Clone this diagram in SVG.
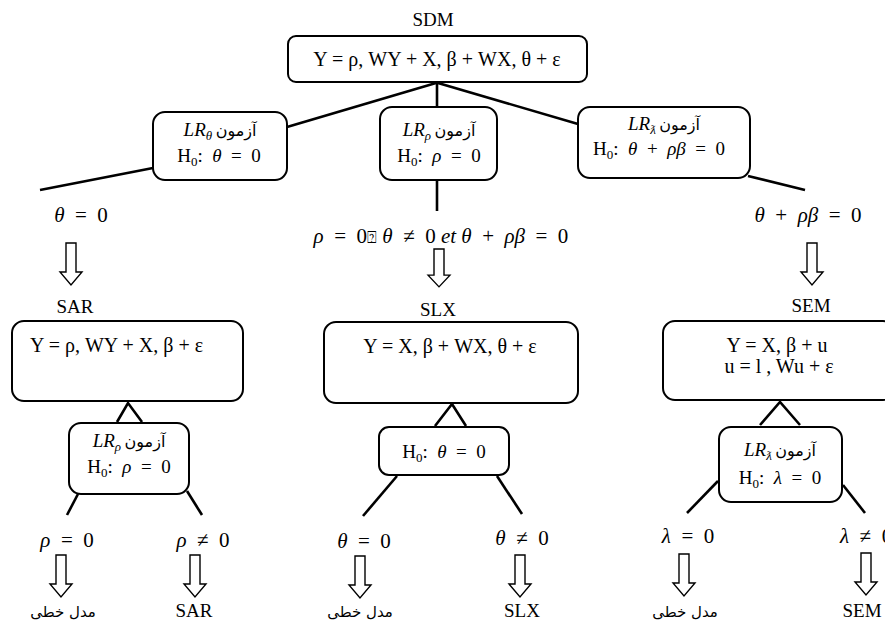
<svg xmlns="http://www.w3.org/2000/svg" width="885" height="625" viewBox="0 0 885 625">
<style>
.bg{fill:#fff}
.box{fill:#fff;stroke:#000;stroke-width:2}
.ln{fill:none;stroke:#000;stroke-width:2.6;stroke-linecap:butt}
.t{font-family:'Liberation Serif','DejaVu Serif',serif;fill:#000;white-space:pre}
.eq{font-size:20px}
.m{font-size:21px}
.lbl{font-size:19px}
.fa{font-family:'DejaVu Sans','Noto Sans',sans-serif;font-size:16px;fill:#000}
.fb{font-family:'DejaVu Sans','Noto Sans',sans-serif;font-size:15px;fill:#000}
.i{font-style:italic}
.arr{fill:#fff;stroke:#000;stroke-width:1.4}
</style>
<defs>
<path id="harrow" d="M-5,0 H5 V29 H11 L0,42 L-11,29 H-5 Z"/>
</defs>
<rect class="bg" x="0" y="0" width="885" height="625"/>

<g id="connectors">
<line class="ln" x1="436" y1="83" x2="287" y2="127"/>
<line class="ln" x1="153" y1="168" x2="40" y2="190"/>
<line class="ln" x1="437" y1="83" x2="437" y2="108"/>
<line class="ln" x1="437" y1="180" x2="437" y2="211"/>
<line class="ln" x1="438" y1="83" x2="578" y2="124"/>
<line class="ln" x1="748" y1="176" x2="805" y2="190"/>
<polyline class="ln" points="117,422 128,403 142,422"/>
<polyline class="ln" points="435,426 452,404 466,426"/>
<polyline class="ln" points="760,425 780,402 800,425"/>
<line class="ln" x1="78" y1="494" x2="67" y2="515"/>
<line class="ln" x1="187" y1="491" x2="202" y2="515"/>
<line class="ln" x1="397" y1="476" x2="363" y2="516"/>
<line class="ln" x1="497" y1="476" x2="522" y2="514"/>
<line class="ln" x1="718" y1="481" x2="687" y2="513"/>
<line class="ln" x1="843" y1="485" x2="865" y2="513"/>
<use href="#harrow" class="arr" transform="translate(71,243)"/>
<use href="#harrow" class="arr" transform="translate(439,249) scale(1,0.9)"/>
<use href="#harrow" class="arr" transform="translate(812,243)"/>
<use href="#harrow" class="arr" transform="translate(61,555)"/>
<use href="#harrow" class="arr" transform="translate(195,555)"/>
<use href="#harrow" class="arr" transform="translate(360,556)"/>
<use href="#harrow" class="arr" transform="translate(520,555)"/>
<use href="#harrow" class="arr" transform="translate(684,554)"/>
<use href="#harrow" class="arr" transform="translate(866,553)"/>
</g>

<g font-family="Liberation Serif, DejaVu Serif, serif">
<g id="sdm">
<text class="t lbl" x="433" y="26" text-anchor="middle">SDM</text>
<rect class="box" x="288" y="36" width="299" height="46" rx="8"/>
<text class="t eq" x="437" y="66" text-anchor="middle">Y = ρ, WY + X, β + WX, θ + ε</text>
</g>

<g id="test-theta">
<rect class="box" x="153" y="112" width="134" height="68" rx="12"/>
<text class="t" x="220" y="136" text-anchor="middle"><tspan class="i" font-size="19">LR</tspan><tspan class="i" font-size="13" dy="4">θ</tspan><tspan dy="-4" font-size="14"> </tspan><tspan class="fa">آزمون</tspan></text>
<text class="t" x="219" y="162" text-anchor="middle" font-size="19">H<tspan font-size="13" dy="4">0</tspan><tspan dy="-4">:  </tspan><tspan class="i">θ</tspan>  =  0</text>
</g>

<g id="test-rho">
<rect class="box" x="380" y="107" width="117" height="73" rx="12"/>
<text class="t" x="439" y="136" text-anchor="middle"><tspan class="i" font-size="19">LR</tspan><tspan class="i" font-size="13" dy="4">ρ</tspan><tspan dy="-4" font-size="14"> </tspan><tspan class="fa">آزمون</tspan></text>
<text class="t" x="439" y="162" text-anchor="middle" font-size="19">H<tspan font-size="13" dy="4">0</tspan><tspan dy="-4">:  </tspan><tspan class="i">ρ</tspan>  =  0</text>
</g>

<g id="test-lambda">
<rect class="box" x="578" y="107" width="172" height="71" rx="12"/>
<text class="t" x="664" y="130" text-anchor="middle"><tspan class="i" font-size="19">LR</tspan><tspan class="i" font-size="13" dy="4">ƛ</tspan><tspan dy="-4" font-size="14"> </tspan><tspan class="fa">آزمون</tspan></text>
<text class="t" x="659" y="155" text-anchor="middle" font-size="19">H<tspan font-size="13" dy="4">0</tspan><tspan dy="-4">:  </tspan><tspan class="i">θ</tspan>  +  <tspan class="i">ρβ</tspan>  =  0</text>
</g>

<g id="cond-labels">
<text class="t m" x="81" y="222" text-anchor="middle"><tspan class="i">θ</tspan>  =  0</text>
<text class="t m" x="441" y="243" text-anchor="middle"><tspan class="i">ρ</tspan>  =  0<tspan font-family="DejaVu Sans" font-size="16">⍰</tspan> <tspan class="i">θ</tspan>  ≠  0 <tspan class="i">et θ</tspan>  +  <tspan class="i">ρβ</tspan>  =  0</text>
<text class="t m" x="808" y="222" text-anchor="middle"><tspan class="i">θ</tspan>  +  <tspan class="i">ρβ</tspan>  =  0</text>
</g>

<g id="sar">
<text class="t lbl" x="75" y="313" text-anchor="middle">SAR</text>
<rect class="box" x="12" y="321" width="231" height="80" rx="12"/>
<text class="t eq" x="30" y="352">Y = ρ, WY + X, β + ε</text>
</g>

<g id="slx">
<text class="t lbl" x="438" y="316" text-anchor="middle">SLX</text>
<rect class="box" x="324" y="322" width="254" height="81" rx="12"/>
<text class="t eq" x="450" y="353" text-anchor="middle">Y = X, β + WX, θ + ε</text>
</g>

<g id="sem">
<text class="t lbl" x="811" y="312" text-anchor="middle">SEM</text>
<rect class="box" x="663" y="321" width="232" height="79" rx="12"/>
<text class="t eq" x="777" y="352" text-anchor="middle">Y = X, β + u</text>
<text class="t eq" x="779" y="373" text-anchor="middle">u = l , Wu + ε</text>
</g>

<g id="sar-test">
<rect class="box" x="69" y="423" width="120" height="71" rx="12"/>
<text class="t" x="129" y="447" text-anchor="middle"><tspan class="i" font-size="19">LR</tspan><tspan class="i" font-size="13" dy="4">ρ</tspan><tspan dy="-4" font-size="14"> </tspan><tspan class="fa">آزمون</tspan></text>
<text class="t" x="129" y="473" text-anchor="middle" font-size="19">H<tspan font-size="13" dy="4">0</tspan><tspan dy="-4">:  </tspan><tspan class="i">ρ</tspan>  =  0</text>
</g>

<g id="slx-test">
<rect class="box" x="379" y="427" width="130" height="48" rx="10"/>
<text class="t" x="444" y="458" text-anchor="middle" font-size="19">H<tspan font-size="13" dy="4">0</tspan><tspan dy="-4">:  </tspan><tspan class="i">θ</tspan>  =  0</text>
</g>

<g id="sem-test">
<rect class="box" x="719" y="427" width="123" height="75" rx="12"/>
<text class="t" x="780" y="456" text-anchor="middle"><tspan class="i" font-size="19">LR</tspan><tspan class="i" font-size="13" dy="4">ƛ</tspan><tspan dy="-4" font-size="14"> </tspan><tspan class="fa">آزمون</tspan></text>
<text class="t" x="780" y="484" text-anchor="middle" font-size="19">H<tspan font-size="13" dy="4">0</tspan><tspan dy="-4">:  </tspan><tspan class="i">λ</tspan>  =  0</text>
</g>

<g id="outcomes">
<text class="t m" x="67" y="547" text-anchor="middle"><tspan class="i">ρ</tspan>  =  0</text>
<text class="t m" x="203" y="547" text-anchor="middle"><tspan class="i">ρ</tspan>  ≠  0</text>
<text class="t m" x="364" y="548" text-anchor="middle"><tspan class="i">θ</tspan>  =  0</text>
<text class="t m" x="522" y="545" text-anchor="middle"><tspan class="i">θ</tspan>  ≠  0</text>
<text class="t m" x="688" y="543" text-anchor="middle"><tspan class="i">λ</tspan>  =  0</text>
<text class="t m" x="840" y="543"><tspan class="i">λ</tspan>  ≠  0</text>
<text class="fb" x="63" y="617" text-anchor="middle">مدل خطی</text>
<text class="t lbl" x="194" y="617" text-anchor="middle">SAR</text>
<text class="fb" x="360" y="617" text-anchor="middle">مدل خطی</text>
<text class="t lbl" x="522" y="617" text-anchor="middle">SLX</text>
<text class="fb" x="685" y="617" text-anchor="middle">مدل خطی</text>
<text class="t lbl" x="862" y="617" text-anchor="middle">SEM</text>
</g>
</g>
</svg>
